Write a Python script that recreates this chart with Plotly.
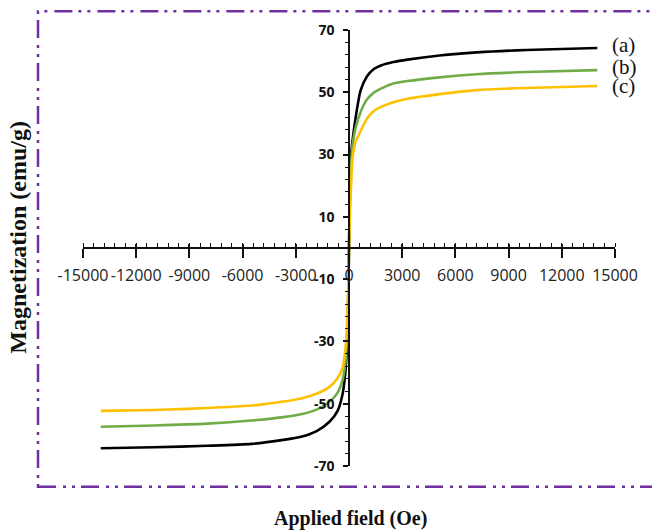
import plotly.graph_objects as go

# Applied field (Oe) sample points
field = [-14000, -11000, -8000, -5500, -3700, -2700, -1800, -1100, -650, -370, -220, -130, -60, 0,
         60, 130, 200, 370, 650, 1000, 1400, 1800, 2500, 3300, 5100, 7200, 10000, 14000]

# Magnetization (emu/g)
mag_a = [-64.3, -64.0, -63.5, -62.9, -61.6, -60.6, -58.7, -55.8, -52.4, -47.1, -40.8, -33.4, -22, 0,
         22, 31, 34.5, 41.7, 50.5, 55.0, 57.5, 58.6, 59.7, 60.5, 61.8, 62.8, 63.6, 64.2]
mag_b = [-57.4, -57.0, -56.4, -55.4, -54.3, -53.4, -51.8, -49.4, -46.5, -42.5, -37.5, -31.0, -20, 0,
         18, 28, 33, 38.5, 43.6, 47.6, 49.9, 51.2, 52.8, 53.6, 54.8, 55.8, 56.5, 57.1]
mag_c = [-52.3, -52.0, -51.4, -50.6, -49.3, -48.3, -46.7, -44.6, -41.8, -38.7, -33.4, -27.0, -16, -1,
         12, 22, 29, 34.0, 37.5, 41.4, 44.0, 45.3, 46.8, 47.9, 49.4, 50.7, 51.4, 52.0]

series_names = ["(a)", "(b)", "(c)"]
series_colors = ["#000000", "#70ad47", "#ffc000"]

x_ticks = [-15000, -12000, -9000, -6000, -3000, 0, 3000, 6000, 9000, 12000, 15000]
y_ticks = [70, 50, 30, 10, -10, -30, -50, -70]

fig = go.Figure()
for ys, name, col in zip([mag_a, mag_b, mag_c], series_names, series_colors):
    fig.add_trace(go.Scatter(x=field, y=ys, mode="lines", name=name,
                             line=dict(color=col, width=2.6, shape="spline", smoothing=0.6),
                             showlegend=False, hoverinfo="skip"))
# helper trace on overlay axis (for upper half of major x ticks)
fig.add_trace(go.Scatter(x=[0], y=[0], xaxis="x2", mode="markers", marker=dict(opacity=0),
                         showlegend=False, hoverinfo="skip"))

# curve labels
label_y = [65.3, 58.0, 52.0]
for name, yv in zip(series_names, label_y):
    fig.add_annotation(x=14700, y=yv, text=name, showarrow=False, xanchor="left", yanchor="middle",
                       font=dict(family="Liberation Serif", size=21, color="#111"))

# page body has an 8px margin: lay out in figure coords = screen coords - 8
OFF = 8
W, H = 660, 532
L, T = 83 - OFF, 23 - OFF
R = W - (615 - OFF)
B = H - (466 - OFF)
pw, ph = W - L - R, H - T - B

def px(x):
    return (x - OFF - L) / pw

def py(y):
    return (H - B - (y - OFF)) / ph

fig.add_annotation(x=px(350), y=py(519), xref="paper", yref="paper", text="<b>Applied field (Oe)</b>",
                   showarrow=False, xanchor="center", yanchor="middle",
                   font=dict(family="Liberation Serif", size=20, color="#111"))
fig.add_annotation(x=px(18), y=py(234), xref="paper", yref="paper", text="<b>Magnetization (emu/g)</b>",
                   showarrow=False, xanchor="center", yanchor="middle", textangle=-90,
                   font=dict(family="Liberation Serif", size=24, color="#111"))

fig.add_shape(type="rect", xref="paper", yref="paper",
              x0=px(38), x1=px(656), y0=py(487), y1=py(4),
              line=dict(color="#7030a0", width=2.5, dash="18px,7px,3px,6px,3px,6px"))

fig.update_layout(
    width=W, height=H, margin=dict(l=L, r=R, t=T, b=B),
    paper_bgcolor="white", plot_bgcolor="white",
    xaxis=dict(range=[-15000, 15000], anchor="free", position=0.5, showline=True, linecolor="#111",
               linewidth=1.5, showgrid=False, zeroline=False,
               tickmode="array", tickvals=x_ticks, ticktext=[str(v) for v in x_ticks],
               ticks="outside", ticklen=9, tickwidth=1.5, tickcolor="#111",
               minor=dict(dtick=600, tick0=0, ticks="inside", ticklen=4, tickwidth=1.2, tickcolor="#111"),
               ticklabelstandoff=4,
               tickfont=dict(family="Open Sans", size=16, color="#222")),
    xaxis2=dict(range=[-15000, 15000], overlaying="x", anchor="free", position=0.5, showline=False,
                showgrid=False, zeroline=False, tickmode="array", tickvals=x_ticks,
                ticks="inside", ticklen=4, tickwidth=1.5, tickcolor="#111", showticklabels=False),
    yaxis=dict(range=[-70, 70], anchor="free", position=0.5, showline=True, linecolor="#111",
               linewidth=1.5, showgrid=False, zeroline=False,
               tickmode="array", tickvals=y_ticks, ticktext=[str(v) for v in y_ticks],
               ticks="outside", ticklen=5, tickwidth=1.5, tickcolor="#111",
               minor=dict(tickmode="array", tickvals=[v for v in range(-70, 71, 4)],
                          ticks="outside", ticklen=3, tickwidth=1.2, tickcolor="#111"),
               ticklabelstandoff=6,
               tickfont=dict(family="Open Sans", size=14, color="#111", weight="bold")),
)

fig.write_html("out.html")
